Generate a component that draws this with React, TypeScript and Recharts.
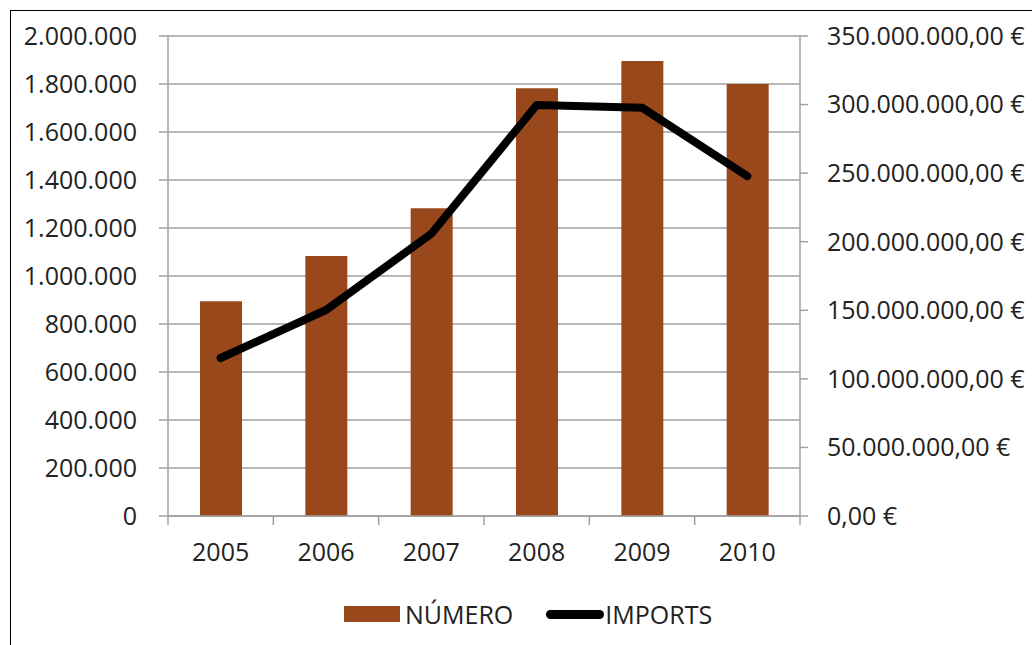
import React from 'react';
import {
  ComposedChart,
  Bar,
  Line,
  XAxis,
  YAxis,
  CartesianGrid,
  Legend,
} from 'recharts';

const years = ['2005', '2006', '2007', '2008', '2009', '2010'];
const numero = [895000, 1083000, 1282000, 1782000, 1896000, 1800000];
const imports = [115200000, 150200000, 205800000, 299700000, 297700000, 247900000];
const leftTicks = [0, 200000, 400000, 600000, 800000, 1000000, 1200000, 1400000, 1600000, 1800000, 2000000];
const rightTicks = [0, 50000000, 100000000, 150000000, 200000000, 250000000, 300000000, 350000000];
const seriesNames = ['NÚMERO', 'IMPORTS'];

const data = years.map((y, i) => ({ year: y, numero: numero[i], imports: imports[i] }));

const W = 1032;
const H = 645;
const LEFT_W = 168;
const RIGHT_W = 232;
const TOP = 36;
const PLOT_BOTTOM = 516;
const XAXIS_H = 60;
const PLOT_W = W - LEFT_W - RIGHT_W;

const BAR_COLOR = '#98481B';
const GRID = '#a0a0a0';
const TEXT = '#222222';
const FONT = "'Open Sans', sans-serif";

const dots = (v: number) => String(Math.round(v)).replace(/\B(?=(\d{3})+(?!\d))/g, '.');
const leftFmt = (v: number) => dots(v);
const rightFmt = (v: number) => `${dots(v)},00 €`;

const XTick = (props: any) => {
  const { x, y, payload, index } = props;
  const band = PLOT_W / years.length;
  const half = band / 2;
  return (
    <g>
      <line x1={x - half} x2={x - half} y1={y} y2={y + 9} stroke={GRID} strokeWidth={1.5} />
      {index === years.length - 1 && (
        <line x1={x + half} x2={x + half} y1={y} y2={y + 9} stroke={GRID} strokeWidth={1.5} />
      )}
      <text x={x} y={y + 36} dy="0.35em" textAnchor="middle" fill={TEXT} fontSize={25} fontFamily={FONT}>
        {payload.value}
      </text>
    </g>
  );
};

const LegendContent = () => (
  <div style={{ display: 'flex', alignItems: 'center', fontFamily: FONT, fontSize: 25, color: TEXT, lineHeight: '34px' }}>
    <div style={{ width: 56, height: 16, background: BAR_COLOR, marginRight: 5 }} />
    <span>{seriesNames[0]}</span>
    <div style={{ width: 58, height: 9, background: '#000', borderRadius: 5, marginLeft: 33, marginRight: 1 }} />
    <span>{seriesNames[1]}</span>
  </div>
);

export default function App() {
  return (
    <div style={{ position: 'absolute', left: 0, top: 0, width: W, height: H, overflow: 'hidden', background: '#fff' }}>
      <div
        style={{
          position: 'absolute',
          left: 10,
          top: 10,
          width: W + 20,
          height: H + 20,
          border: '1px solid #000',
          boxSizing: 'border-box',
        }}
      />
      <div style={{ position: 'absolute', left: 0, top: 0 }}>
        <ComposedChart
          width={W}
          height={H}
          data={data}
          margin={{ top: TOP, right: 0, left: 0, bottom: H - PLOT_BOTTOM - XAXIS_H }}
        >
          <CartesianGrid yAxisId="left" vertical={false} stroke={GRID} strokeWidth={1.5} />
          <XAxis
            dataKey="year"
            height={XAXIS_H}
            tickLine={false}
            tickSize={0}
            tickMargin={0}
            axisLine={{ stroke: GRID, strokeWidth: 1.5 }}
            tick={<XTick />}
            interval={0}
          />
          <YAxis
            yAxisId="left"
            width={LEFT_W}
            domain={[0, 2000000]}
            ticks={leftTicks}
            tickFormatter={leftFmt}
            tickSize={9}
            tickMargin={22}
            axisLine={{ stroke: GRID, strokeWidth: 1.5 }}
            tickLine={{ stroke: GRID, strokeWidth: 1.5 }}
            tick={{ fill: TEXT, fontSize: 25, fontFamily: FONT }}
            interval={0}
          />
          <YAxis
            yAxisId="right"
            orientation="right"
            width={RIGHT_W}
            domain={[0, 350000000]}
            ticks={rightTicks}
            tickFormatter={rightFmt}
            tickSize={8}
            tickMargin={19}
            axisLine={{ stroke: GRID, strokeWidth: 1.5 }}
            tickLine={{ stroke: GRID, strokeWidth: 1.5 }}
            tick={{ fill: TEXT, fontSize: 25, fontFamily: FONT, textAnchor: 'start' }}
            interval={0}
          />
          <Bar yAxisId="left" dataKey="numero" name={seriesNames[0]} fill={BAR_COLOR} barSize={42} isAnimationActive={false} />
          <Line
            yAxisId="right"
            dataKey="imports"
            name={seriesNames[1]}
            type="linear"
            stroke="#000"
            strokeWidth={8}
            strokeLinecap="round"
            strokeLinejoin="round"
            dot={false}
            activeDot={false}
            isAnimationActive={false}
          />
          <Legend
            layout="horizontal"
            verticalAlign="middle"
            align="center"
            content={<LegendContent />}
            wrapperStyle={{ position: 'absolute', left: 344, top: 597, width: 'auto' }}
          />
        </ComposedChart>
      </div>
    </div>
  );
}
